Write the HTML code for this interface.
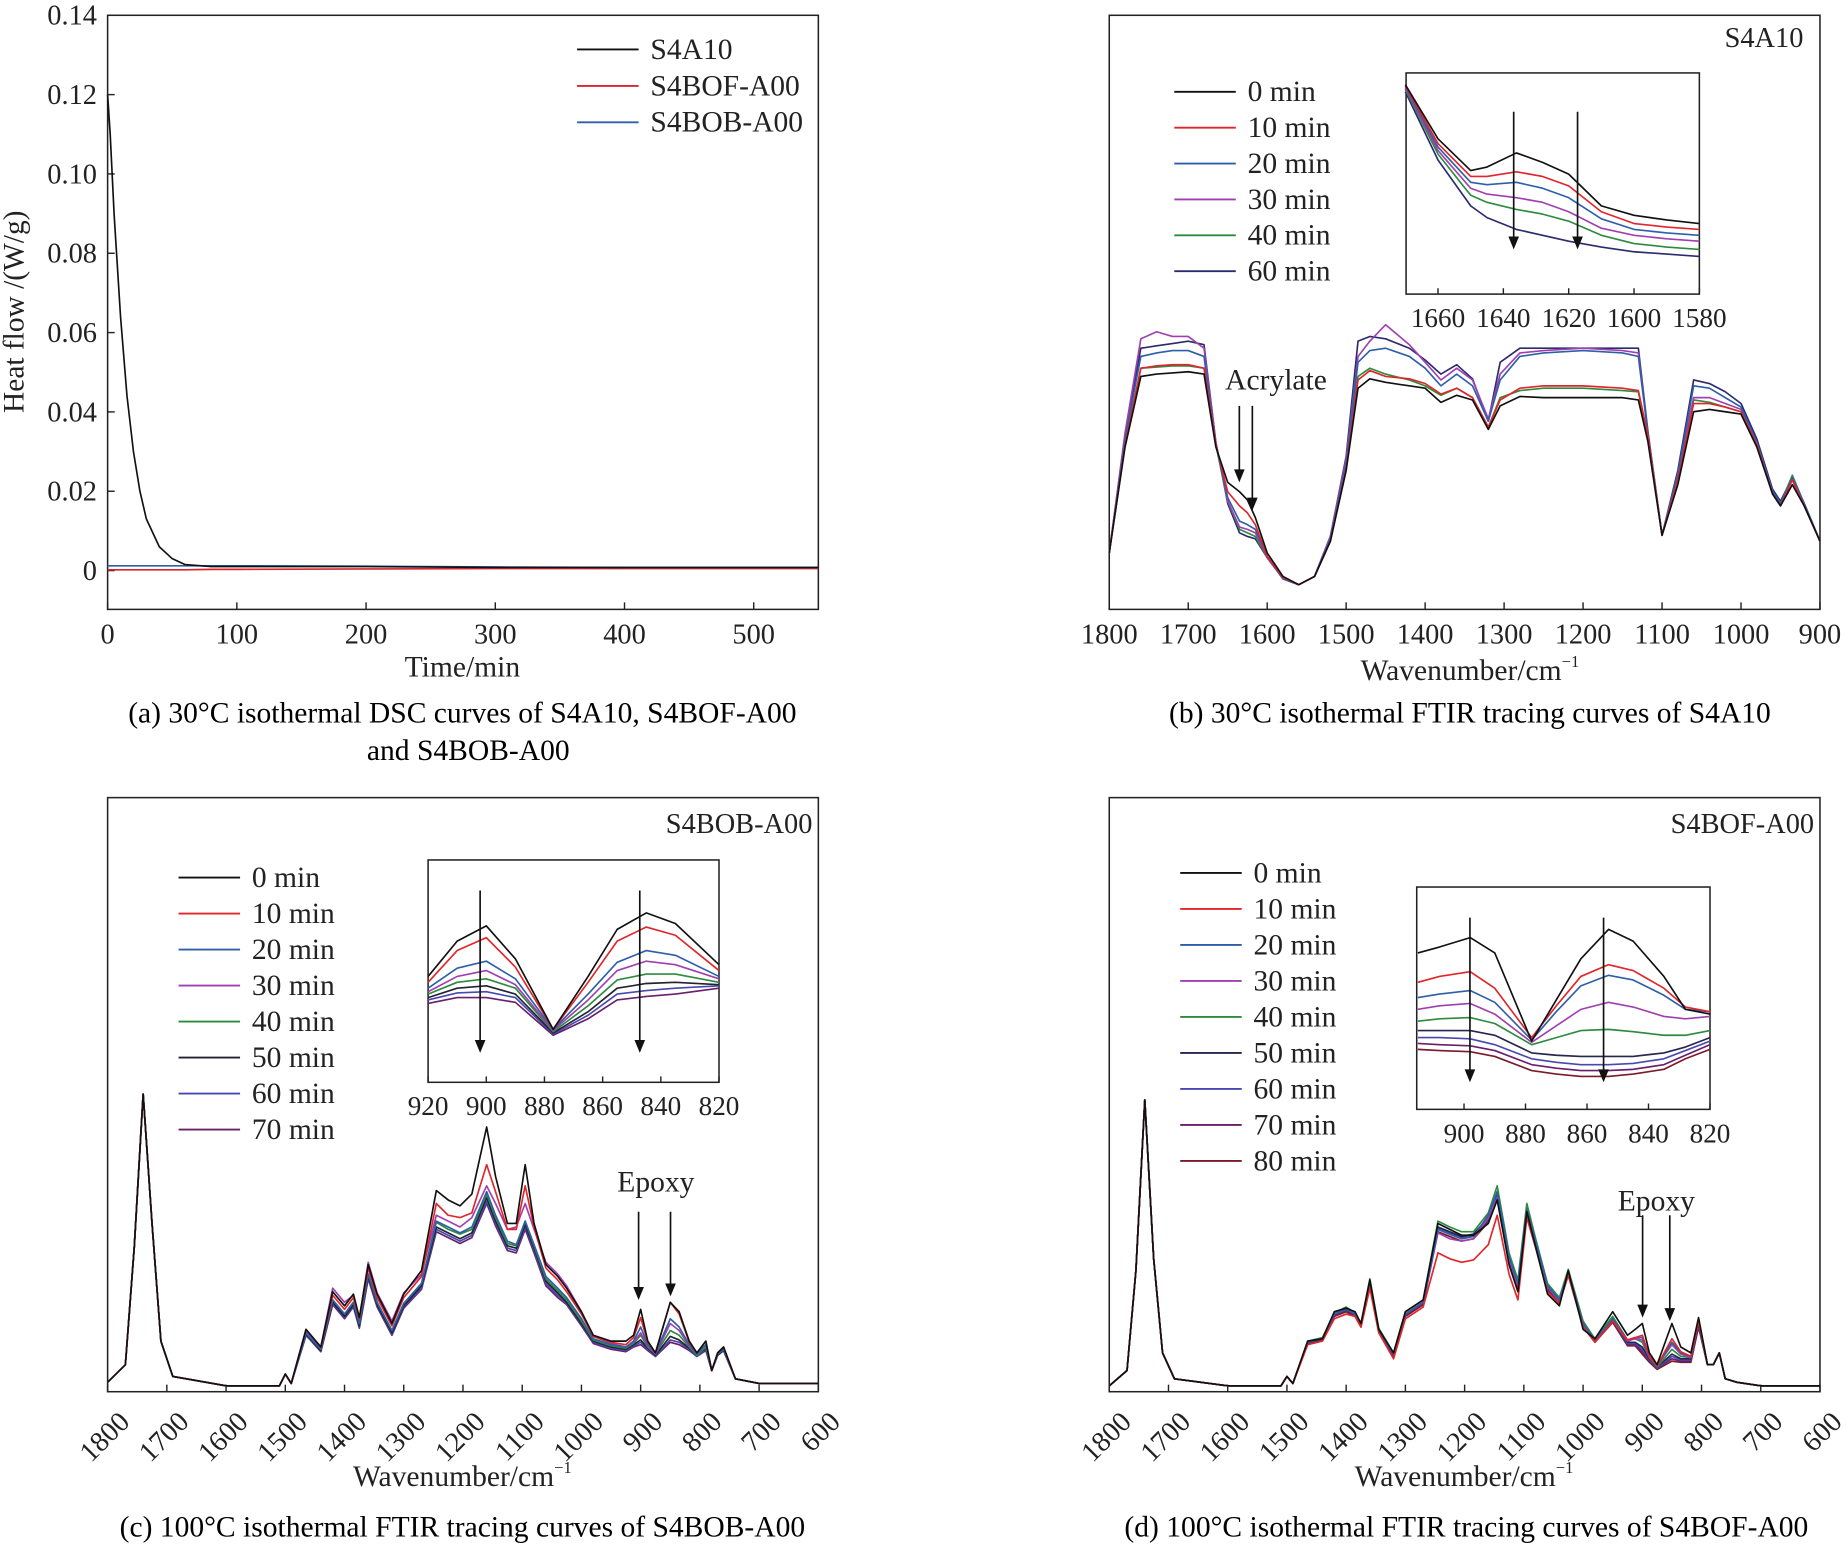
<!DOCTYPE html>
<html><head><meta charset="utf-8"><style>
html,body{margin:0;padding:0;background:#fff;}
svg{display:block;font-family:"Liberation Serif",serif;}
</style></head><body>
<svg id="fig" width="1846" height="1547" viewBox="0 0 1561 1315" preserveAspectRatio="none" xmlns="http://www.w3.org/2000/svg">
<text x="391" y="614" font-size="25" text-anchor="middle">(a) 30°C isothermal DSC curves of S4A10, S4BOF-A00</text>
<text x="396" y="646" font-size="25" text-anchor="middle">and S4BOB-A00</text>
<text x="1243" y="614" font-size="25" text-anchor="middle">(b) 30°C isothermal FTIR tracing curves of S4A10</text>
<text x="391" y="1306" font-size="25" text-anchor="middle">(c) 100°C isothermal FTIR tracing curves of S4BOB-A00</text>
<text x="1240" y="1306" font-size="25" text-anchor="middle">(d) 100°C isothermal FTIR tracing curves of S4BOF-A00</text>
</svg>
<script>
// ---------- Panel A data ----------
const aTime = [0,2,5,10,15,20,25,30,40,50,60,80,100,200,300,400,550];
const aS4A10 = [0.12,0.11,0.09,0.064,0.044,0.030,0.020,0.013,0.006,0.003,0.0015,0.001,0.001,0.001,0.0008,0.0008,0.0008];
const aBOF = [0.0002,0.0002,0.0002,0.0002,0.0002,0.0002,0.0002,0.0002,0.0002,0.0002,0.0002,0.0003,0.0003,0.0004,0.0005,0.0005,0.0005];
const aBOB = [0.0012,0.0012,0.0012,0.0012,0.0012,0.0012,0.0012,0.0012,0.0012,0.0012,0.0012,0.0012,0.0012,0.0011,0.0009,0.0008,0.0008];
const aYTicks = [0,0.02,0.04,0.06,0.08,0.10,0.12,0.14];
const aYLabels = ["0","0.02","0.04","0.06","0.08","0.10","0.12","0.14"];
const aXTicks = [0,100,200,300,400,500];

// ---------- Panel B data ----------
const bWn = [1800,1780,1760,1740,1720,1700,1680,1665,1650,1635,1625,1615,1600,1580,1560,1540,1520,1500,1485,1470,1450,1420,1400,1380,1360,1340,1320,1305,1280,1250,1200,1150,1130,1118,1100,1080,1060,1040,1020,1000,980,960,950,935,920,900];
const b0 = [48,138,198,200,201,202,200,138,108,100,93,78,48,28,21,28,58,118,188,196,193,190,188,176,182,178,153,173,181,180,180,180,178,143,63,106,168,170,168,166,138,98,88,106,88,58];
const b10 = [48,140,205,207,208,208,205,140,100,88,82,72,45,27,21,28,58,120,195,203,198,196,192,183,188,180,155,178,188,190,190,188,186,148,63,110,175,175,172,168,140,98,88,110,88,58];
const b20 = [48,145,215,218,220,220,215,140,95,75,72,68,45,26,21,28,60,125,210,220,222,215,205,190,200,190,160,195,215,218,220,218,215,150,63,115,190,188,180,172,142,100,90,112,90,58];
const b30 = [48,150,230,236,232,232,222,142,92,70,68,65,44,26,21,28,62,128,215,228,242,225,210,195,205,195,162,200,218,220,222,220,218,150,63,115,180,180,175,170,142,100,90,112,90,58];
const b40 = [48,140,205,206,207,207,205,140,92,68,65,62,44,26,21,28,58,122,198,205,200,195,190,182,188,180,155,180,186,188,188,186,185,146,63,112,178,176,172,168,140,100,90,114,90,58];
const b60 = [48,148,222,224,226,228,225,142,90,65,62,60,44,26,21,28,62,130,228,232,230,222,212,200,208,196,160,210,222,222,222,222,222,152,63,118,195,192,185,175,145,102,92,112,90,58];
const bInWn = [1670,1660,1650,1645,1636,1628,1620,1610,1600,1590,1580];
const bIn0 = [178,132,105,108,120,112,102,75,67,63,60];
const bIn10 = [177,128,100,100,104,100,92,70,60,57,55];
const bIn20 = [176,125,95,93,95,90,82,64,55,52,50];
const bIn30 = [175,122,90,85,82,78,70,56,50,47,45];
const bIn40 = [174,119,84,78,72,68,62,50,43,40,38];
const bIn60 = [172,114,75,65,55,50,45,40,36,34,32];
const bLabels = ["0 min","10 min","20 min","30 min","40 min","60 min"];
const bXTicks = [1800,1700,1600,1500,1400,1300,1200,1100,1000,900];
const bInTicks = [1660,1640,1620,1600,1580];

// ---------- Panel C data ----------
const cWn = [1800,1770,1755,1740,1725,1710,1690,1600,1510,1500,1490,1465,1440,1420,1400,1385,1375,1360,1345,1320,1300,1270,1245,1225,1205,1185,1160,1145,1125,1110,1095,1080,1060,1040,1025,1000,980,950,925,912,900,888,875,850,835,818,805,790,780,770,760,740,700,600];
const c0 = [8,23,123,253,143,43,13,5,5,15,7,53,38,85,73,83,63,108,83,58,83,103,171,163,158,168,225,183,143,143,193,143,108,98,88,68,48,43,43,48,70,43,33,76,68,43,33,43,18,33,38,11,7,7];
const c10 = [8,23,123,253,143,43,13,5,5,15,7,53,38,82,70,80,62,105,80,56,80,98,160,150,148,152,193,170,138,138,175,140,105,95,85,66,47,42,40,46,63,42,33,76,66,42,33,43,18,33,38,11,7,7];
const c20 = [8,23,123,253,143,43,13,5,5,15,7,50,36,78,66,76,58,100,76,52,75,92,145,140,135,140,170,150,128,125,145,125,98,88,80,62,45,40,38,43,55,40,33,62,55,40,32,40,18,32,36,11,7,7];
const c30 = [8,23,123,253,143,43,13,5,5,15,7,52,38,88,76,82,62,110,84,60,84,100,150,145,140,148,175,160,138,140,160,138,110,100,90,68,47,41,38,42,50,39,32,58,52,39,32,40,18,32,36,11,7,7];
const c40 = [8,23,123,253,143,43,13,5,5,15,7,50,36,78,66,76,58,100,76,52,75,92,144,138,134,138,168,148,126,124,145,124,96,86,78,60,44,39,37,41,48,38,32,52,48,38,31,38,18,32,36,11,7,7];
const c50 = [8,23,123,253,143,43,13,5,5,15,7,49,35,76,64,74,56,98,74,50,73,90,140,135,130,135,165,145,124,122,142,122,94,84,76,58,43,38,36,40,44,37,31,47,44,37,31,37,18,31,35,11,7,7];
const c60 = [8,23,123,253,143,43,13,5,5,15,7,48,35,75,63,73,55,97,73,49,72,88,138,133,128,133,162,143,122,120,140,120,92,82,75,57,42,37,35,39,42,36,30,44,42,36,30,36,18,31,35,11,7,7];
const c70 = [8,23,123,253,143,43,13,5,5,15,7,48,34,74,62,72,54,96,72,48,71,87,136,131,126,131,160,141,120,118,138,118,90,80,74,56,41,36,34,38,40,35,30,42,40,35,30,35,18,31,35,11,7,7];
const cInWn = [920,910,900,890,877,865,855,845,835,820];
const cIn0 = [90,120,133,105,45,90,130,144,135,100];
const cIn10 = [85,112,123,98,45,85,120,132,125,95];
const cIn20 = [80,97,103,88,45,75,102,112,108,90];
const cIn30 = [77,90,95,83,44,70,95,103,100,88];
const cIn40 = [75,85,88,80,43,65,87,92,92,85];
const cIn50 = [72,80,82,75,42,60,80,84,85,83];
const cIn60 = [70,76,77,72,41,57,75,78,80,82];
const cIn70 = [67,72,72,68,40,54,70,73,75,80];
const cLabels = ["0 min","10 min","20 min","30 min","40 min","50 min","60 min","70 min"];
const cdXTicks = [1800,1700,1600,1500,1400,1300,1200,1100,1000,900,800,700,600];
const cInTicks = [920,900,880,860,840,820];

// ---------- Panel D data ----------
const d0 = [5,18,103,248,113,33,11,5,5,13,7,43,45,68,71,68,58,95,53,33,68,78,143,138,133,133,143,163,108,85,153,123,83,73,103,53,45,68,48,53,58,33,23,58,38,33,63,23,23,33,11,8,5,5];
const d10 = [5,18,103,248,113,33,11,5,5,13,7,40,43,62,66,64,55,88,50,28,62,72,118,113,110,112,125,150,100,78,148,122,85,75,100,55,42,60,44,46,48,30,22,45,34,30,60,23,23,33,11,8,5,5];
const d20 = [5,18,103,248,113,33,11,5,5,13,7,42,45,66,70,66,57,93,52,32,66,76,138,134,130,132,150,170,115,92,155,128,90,78,102,58,44,62,44,46,46,30,22,42,33,30,62,23,23,33,11,8,5,5];
const d30 = [5,18,103,248,113,33,11,5,5,13,7,42,45,66,70,66,57,93,52,32,66,76,135,130,128,130,148,165,113,90,154,127,89,77,101,57,44,61,43,45,44,29,22,40,32,29,61,23,23,33,11,8,5,5];
const d40 = [5,18,103,248,113,33,11,5,5,13,7,43,46,67,72,67,58,96,54,33,68,78,145,140,136,136,152,175,118,95,160,130,92,80,104,60,45,64,44,45,42,29,21,36,30,29,60,23,23,33,11,8,5,5];
const d50 = [5,18,103,248,113,33,11,5,5,13,7,42,45,66,70,66,57,94,53,32,66,76,140,136,132,134,148,170,115,92,156,128,90,78,102,58,44,62,42,42,38,28,21,32,28,28,58,23,23,33,11,8,5,5];
const d60 = [5,18,103,248,113,33,11,5,5,13,7,42,45,66,70,66,57,93,52,32,66,76,139,135,131,133,147,168,114,91,155,127,89,77,101,57,43,61,41,41,36,27,20,30,27,27,57,23,23,33,11,8,5,5];
const d70 = [5,18,103,248,113,33,11,5,5,13,7,42,44,65,69,65,56,92,52,31,65,75,138,134,130,132,146,166,113,90,154,126,88,76,100,56,43,60,40,40,34,26,20,28,26,26,56,23,23,33,11,8,5,5];
const d80 = [5,18,103,248,113,33,11,5,5,13,7,41,44,64,68,64,55,91,51,30,64,74,136,132,128,130,144,164,112,89,153,125,87,75,99,55,42,59,39,39,32,25,19,26,25,25,55,23,23,33,11,8,5,5];
const dInWn = [915,908,898,890,878,870,862,853,845,835,828,820];
const dIn0 = [133,138,146,133,58,93,128,153,143,113,85,81];
const dIn10 = [108,113,117,103,61,88,113,123,118,103,87,83];
const dIn20 = [95,98,101,91,59,83,105,114,110,97,85,83];
const dIn30 = [85,88,90,81,57,71,85,91,87,79,77,79];
const dIn40 = [75,77,78,73,55,61,67,68,66,63,63,67];
const dIn50 = [67,67,67,63,48,46,45,45,45,48,53,61];
const dIn60 = [61,61,60,55,43,40,38,38,39,43,50,58];
const dIn70 = [56,55,54,50,38,35,33,33,34,38,46,55];
const dIn80 = [51,50,49,45,33,30,28,28,30,34,43,51];
const dLabels = ["0 min","10 min","20 min","30 min","40 min","50 min","60 min","70 min","80 min"];
const dInTicks = [900,880,860,840,820];

const NS = "http://www.w3.org/2000/svg";
const svg = document.getElementById('fig');
function el(tag, attrs, parent){
  const e = document.createElementNS(NS, tag);
  for (const k in attrs) e.setAttribute(k, attrs[k]);
  (parent||svg).appendChild(e);
  return e;
}
function lin(d0,d1,r0,r1){ return v => r0 + (v-d0)*(r1-r0)/(d1-d0); }
function path(xs, ys, sx, sy, color, name, w){
  let d = '';
  for (let i=0;i<xs.length;i++) d += (i?'L':'M') + sx(xs[i]).toFixed(2) + ',' + sy(ys[i]).toFixed(2);
  const p = el('path', {d:d, fill:'none', stroke:color, 'stroke-width':w||1.4, 'stroke-linejoin':'round'});
  
  
  return p;
}
function box(x0,y0,x1,y1,name){
  const r = el('rect',{x:x0,y:y0,width:x1-x0,height:y1-y0,fill:'none',stroke:'#222','stroke-width':1.3});
  
  
}
function text(x,y,s,size,anchor,name,extra){
  const t = el('text', Object.assign({x:x,y:y,'font-size':size,'text-anchor':anchor||'start',fill:'#222'}, extra||{}));
  t.textContent = s;
  
  
  return t;
}
function wnTitle(x,y,name){
  const t = text(x,y,'Wavenumber/cm',25,'middle',name);
  const s = el('tspan',{'font-size':14,dy:-11});
  s.textContent = '−1';
  t.appendChild(s);
}
function tick(x1,y1,x2,y2,name){
  const l = el('line',{x1:x1,y1:y1,x2:x2,y2:y2,stroke:'#222','stroke-width':1.2});
  
  
}
function arrow(x,y1,y2,name){
  const g = el('g',{});
  
  
  el('line',{x1:x,y1:y1,x2:x,y2:y2-9,stroke:'#111','stroke-width':1.4},g);
  el('polygon',{points:(x-4.5)+','+(y2-11)+' '+(x+4.5)+','+(y2-11)+' '+x+','+y2,fill:'#111'},g);
}
function legend(x, y0, step, labels, colors, prefix){
  for (let i=0;i<labels.length;i++){
    const y = y0 + i*step;
    const l = el('line',{x1:x,y1:y,x2:x+52,y2:y,stroke:colors[i],'stroke-width':1.6});
    
    
    text(x+62, y+8, labels[i], 25, 'start', prefix+'-legend-label-'+i);
  }
}

// ===== Panel A =====
(function(){
  const sx = lin(0,550,91,692), sy = lin(0,0.14,485,13);
  box(91,13,692,518,'panel-a-plot-area');
  aYTicks.forEach((v,i)=>{ tick(91,sy(v),97,sy(v),'a-y-tick'); text(82,sy(v)+8,aYLabels[i],24,'end','a-y-tick-label'); });
  aXTicks.forEach(v=>{ tick(sx(v),518,sx(v),512,'a-x-tick'); text(sx(v),547,String(v),24,'middle','a-x-tick-label'); });
  text(391,575,'Time/min',25,'middle','a-x-axis-title');
  text(20,265,'Heat flow /(W/g)',25,'middle','a-y-axis-title',{transform:'rotate(-90 20 265)'});
  path(aTime,aBOF,sx,sy,'#d8262d','a-series-s4bof-a00');
  path(aTime,aBOB,sx,sy,'#2e5fa8','a-series-s4bob-a00');
  path(aTime,aS4A10,sx,sy,'#111','a-series-s4a10');
  legend(488,42,31,['S4A10','S4BOF-A00','S4BOB-A00'],['#111','#d8262d','#2e5fa8'],'a');
})();

const colB = ['#111','#e0262b','#2e5fa8','#a040b0','#2e8b3e','#2b2b6e'];
const colC = ['#111','#e0262b','#2e5fa8','#a040b0','#2e8b3e','#222233','#4848b0','#6a1f6a'];
const colD = ['#111','#e0262b','#2e5fa8','#a040b0','#2e8b3e','#262650','#4848b0','#6a1f6a','#7a1a2a'];

// ===== Panel B =====
(function(){
  const sx = lin(1800,900,938,1539), sy = lin(0,505,518,13);
  box(938,13,1539,518,'panel-b-plot-area');
  bXTicks.forEach(v=>{ tick(sx(v),518,sx(v),512,'b-x-tick'); text(sx(v),547,String(v),24,'middle','b-x-tick-label'); });
  wnTitle(1243,578,'b-x-axis-title');
  text(1525,40,'S4A10',24,'end','b-sample-label');
  const series=[b0,b10,b20,b30,b40,b60];
  for (let i=series.length-1;i>=0;i--) path(bWn,series[i],sx,sy,colB[i],'b-series-'+bLabels[i].replace(' ','-'));
  legend(993,78,30.5,bLabels,colB,'b');
  text(1036,331,'Acrylate',25,'start','b-acrylate-label');
  arrow(1048,345,410,'b-acrylate-arrow-1');
  arrow(1059,345,434,'b-acrylate-arrow-2');
  const ix = lin(1660,1580,1216,1437), iy = lin(0,188,250,62);
  el('rect',{x:1189,y:62,width:248,height:188,fill:'#fff'});
  box(1189,62,1437,250,'b-inset-plot-area');
  bInTicks.forEach(v=>{ tick(ix(v),250,ix(v),245,'b-inset-tick'); text(ix(v),278,String(v),23,'middle','b-inset-tick-label'); });
  const ins=[bIn0,bIn10,bIn20,bIn30,bIn40,bIn60];
  for (let i=ins.length-1;i>=0;i--) path(bInWn,ins[i],ix,iy,colB[i],'b-inset-series-'+i);
  arrow(1280,95,212,'b-inset-arrow-1');
  arrow(1334,95,212,'b-inset-arrow-2');
})();

// ===== Panels C and D =====
function ftirPanel(pref, x0, series, labels, cols, sample, insetBox, inWn, inSeries, inTicks, inDom, arrowsMain, epoxyX, inArrows, legY){
  const sx = lin(1800,600,x0,x0+601), sy = lin(0,505,1183,678);
  box(x0,678,x0+601,1183,'panel-'+pref+'-plot-area');
  cdXTicks.forEach(v=>{
    tick(sx(v),1183,sx(v),1177,pref+'-x-tick');
    const tx=sx(v)+8, ty=1198;
    text(tx,ty,String(v),24,'end',pref+'-x-tick-label',{transform:'rotate(-45 '+tx+' '+ty+')',dy:'0.7em'});
  });
  wnTitle(x0+300,1263,pref+'-x-axis-title');
  text(x0+596,708,sample,24,'end',pref+'-sample-label');
  for (let i=series.length-1;i>=0;i--) path(cWn,series[i],sx,sy,cols[i],pref+'-series-'+labels[i].replace(' ','-'));
  legend(x0+60,legY,30.6,labels,cols,pref);
  text(epoxyX,1013+(pref==='d'?16:0),'Epoxy',25,'start',pref+'-epoxy-label');
  arrowsMain.forEach((a,i)=>arrow(a[0],a[1],a[2],pref+'-epoxy-arrow-'+i));
  const [bx0,by0,bx1,by1]=insetBox;
  const ix = lin(inDom[0],inDom[1],inDom[2],inDom[3]), iy = lin(0,by1-by0,by1,by0);
  el('rect',{x:bx0,y:by0,width:bx1-bx0,height:by1-by0,fill:'#fff'});
  box(bx0,by0,bx1,by1,pref+'-inset-plot-area');
  inTicks.forEach(v=>{ tick(ix(v),by1,ix(v),by1-5,pref+'-inset-tick'); text(ix(v),by1+28,String(v),23,'middle',pref+'-inset-tick-label'); });
  for (let i=inSeries.length-1;i>=0;i--) path(inWn,inSeries[i],ix,iy,cols[i],pref+'-inset-series-'+i);
  inArrows.forEach((a,i)=>arrow(a[0],a[1],a[2],pref+'-inset-arrow-'+i));
}
ftirPanel('c',91,[c0,c10,c20,c30,c40,c50,c60,c70],cLabels,colC,'S4BOB-A00',[362,731,608,920],cInWn,
  [cIn0,cIn10,cIn20,cIn30,cIn40,cIn50,cIn60,cIn70],cInTicks,[920,820,362,608],
  [[540,1030,1105],[567,1030,1102]],522,[[406,757,895],[541,757,895]],746);
ftirPanel('d',938,[d0,d10,d20,d30,d40,d50,d60,d70,d80],dLabels,colD,'S4BOF-A00',[1198,754,1446,943],dInWn,
  [dIn0,dIn10,dIn20,dIn30,dIn40,dIn50,dIn60,dIn70,dIn80],dInTicks,[900,820,1238,1446],
  [[1389,1033,1120],[1412,1033,1123]],1368,[[1243,780,920],[1356,780,920]],742);
</script>
</body></html>
